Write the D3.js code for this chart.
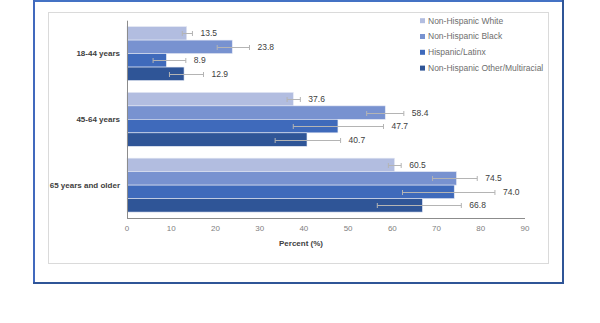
<!DOCTYPE html>
<html>
<head>
<meta charset="utf-8">
<script src="https://cdn.jsdelivr.net/npm/d3@7"></script>
<style>
  body { margin: 0; background: #fff; }
  svg { display: block; font-family: "Liberation Sans", Arial, sans-serif; }
</style>
</head>
<body>
<svg id="chart" width="600" height="323"></svg>
<script>
// age groups and race/ethnicity series
const groups = ["18-44 years", "45-64 years", "65 years and older"];
const seriesNames = ["Non-Hispanic White", "Non-Hispanic Black", "Hispanic/Latinx", "Non-Hispanic Other/Multiracial"];
const seriesColors = ["#b2bde0", "#7892d0", "#3f6abb", "#2f5597"];

// percent values, one entry per age group
const whiteVals = [13.5, 37.6, 60.5];
const blackVals = [23.8, 58.4, 74.5];
const hispanicVals = [8.9, 47.7, 74.0];
const otherVals = [12.9, 40.7, 66.8];

// confidence intervals
const whiteLo = [12.5, 36.2, 59.1], whiteHi = [14.8, 39.2, 62.0];
const blackLo = [20.4, 54.2, 69.1], blackHi = [27.7, 62.6, 79.2];
const hispanicLo = [5.9, 37.6, 62.3], hispanicHi = [13.3, 58.0, 83.2];
const otherLo = [9.6, 33.5, 56.6], otherHi = [17.3, 48.3, 75.6];

const xTicks = [0, 10, 20, 30, 40, 50, 60, 70, 80, 90];

const allVals = [whiteVals, blackVals, hispanicVals, otherVals];
const allLo = [whiteLo, blackLo, hispanicLo, otherLo];
const allHi = [whiteHi, blackHi, hispanicHi, otherHi];

// flatten into rows for drawing
let rows = [];
groups.forEach((g, gi) => {
  seriesNames.forEach((s, si) => {
    rows.push({ group: g, series: s, si: si, v: allVals[si][gi], lo: allLo[si][gi], hi: allHi[si][gi] });
  });
});

let svg = d3.select("#chart");

// outer frame
svg.append("line").attr("x1", 33).attr("x2", 564).attr("y1", 1).attr("y2", 1).attr("stroke", "#4472c4").attr("stroke-width", 2);
svg.append("line").attr("x1", 34).attr("x2", 34).attr("y1", 0).attr("y2", 284).attr("stroke", "#4169bd").attr("stroke-width", 2);
svg.append("line").attr("x1", 563).attr("x2", 563).attr("y1", 0).attr("y2", 284).attr("stroke", "#2f5597").attr("stroke-width", 2);
svg.append("line").attr("x1", 33).attr("x2", 564).attr("y1", 283).attr("y2", 283).attr("stroke", "#2f5597").attr("stroke-width", 2);

// chart area box
svg.append("rect").attr("x", 48.5).attr("y", 12.5).attr("width", 500).attr("height", 251)
  .attr("fill", "#fff").attr("stroke", "#dadada").attr("stroke-width", 1);

// scales
let x = d3.scaleLinear().domain([0, 90]).range([127, 525]);
let y0 = d3.scaleBand().domain(groups).range([20.7, 218]).paddingInner(0.18).paddingOuter(0.09);
let y1 = d3.scaleBand().domain(seriesNames).range([0, y0.bandwidth()]);
let color = d3.scaleOrdinal().domain(seriesNames).range(seriesColors);

// bars
svg.append("g").selectAll("rect")
  .data(rows)
  .enter()
  .append("rect")
  .attr("x", x(0))
  .attr("y", d => y0(d.group) + y1(d.series))
  .attr("width", d => x(d.v) - x(0))
  .attr("height", y1.bandwidth())
  .attr("fill", d => color(d.series))
  .attr("stroke", "#e4e8f4")
  .attr("stroke-width", 0.6);

// error bars
let eb = svg.append("g").attr("stroke", "#b4b4b4").attr("stroke-width", 1);
rows.forEach(d => {
  let cy = Math.round(y0(d.group) + y1(d.series) + y1.bandwidth() / 2) + 0.5;
  eb.append("line").attr("x1", x(d.lo)).attr("x2", x(d.hi)).attr("y1", cy).attr("y2", cy);
  eb.append("line").attr("x1", x(d.lo)).attr("x2", x(d.lo)).attr("y1", cy - 2.5).attr("y2", cy + 2.5);
  eb.append("line").attr("x1", x(d.hi)).attr("x2", x(d.hi)).attr("y1", cy - 2.5).attr("y2", cy + 2.5);
});

// value labels
svg.append("g").selectAll("text")
  .data(rows)
  .enter()
  .append("text")
  .attr("x", d => x(d.hi) + 8)
  .attr("y", d => y0(d.group) + y1(d.series) + y1.bandwidth() / 2)
  .attr("dy", "0.35em")
  .attr("font-size", "8.5px")
  .attr("fill", "#404040")
  .text(d => d.v.toFixed(1));

// axes lines
svg.append("line").attr("x1", x(0)).attr("x2", x(90)).attr("y1", 218.5).attr("y2", 218.5).attr("stroke", "#8c8c8c");
svg.append("line").attr("x1", x(0) + 0.5).attr("x2", x(0) + 0.5).attr("y1", 20.7).attr("y2", 218.5).attr("stroke", "#8c8c8c");

// x tick labels
svg.append("g").selectAll("text")
  .data(xTicks)
  .enter()
  .append("text")
  .attr("x", d => x(d))
  .attr("y", 228)
  .attr("dy", "0.35em")
  .attr("text-anchor", "middle")
  .attr("font-size", "8px")
  .attr("fill", "#808080")
  .text(d => d);

// category labels
svg.append("g").selectAll("text")
  .data(groups)
  .enter()
  .append("text")
  .attr("x", 120)
  .attr("y", d => y0(d) + y0.bandwidth() / 2)
  .attr("dy", "0.35em")
  .attr("text-anchor", "end")
  .attr("font-size", "8px")
  .attr("font-weight", "bold")
  .attr("fill", "#404040")
  .text(d => d);

// axis title
svg.append("text")
  .attr("x", 301).attr("y", 243.5).attr("dy", "0.35em")
  .attr("text-anchor", "middle")
  .attr("font-size", "8px")
  .attr("font-weight", "bold")
  .attr("fill", "#404040")
  .text("Percent (%)");

// legend
let leg = svg.append("g").selectAll("g")
  .data(seriesNames)
  .enter()
  .append("g")
  .attr("transform", (d, i) => `translate(420, ${20.7 + i * 15.8})`);
leg.append("rect").attr("x", 0).attr("y", -2.5).attr("width", 5).attr("height", 5).attr("fill", d => color(d));
leg.append("text").attr("x", 8).attr("y", 0).attr("dy", "0.35em")
  .attr("font-size", "8.5px").attr("fill", "#6e6e6e").text(d => d);
</script>
</body>
</html>
